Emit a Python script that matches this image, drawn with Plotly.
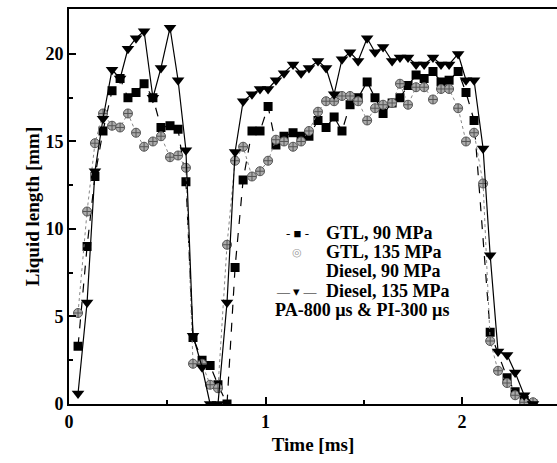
import plotly.graph_objects as go

# GTL, 90 MPa (squares)
t_gtl90 = [0.046, 0.092, 0.132, 0.173, 0.219, 0.260, 0.300, 0.341, 0.382, 0.427, 0.468, 0.514, 0.555, 0.595,
           0.631, 0.677, 0.718, 0.758, 0.804, 0.845, 0.886, 0.931, 0.972, 1.013, 1.053, 1.094, 1.140, 1.181,
           1.221, 1.267, 1.308, 1.349, 1.389, 1.430, 1.471, 1.517, 1.557, 1.598, 1.644, 1.684, 1.725, 1.766,
           1.807, 1.852, 1.893, 1.934, 1.980, 2.020, 2.061, 2.143, 2.229, 2.270, 2.316, 2.361]
v_gtl90 = [3.3, 9.0, 13.0, 15.6, 17.9, 18.6, 17.5, 17.8, 18.3, 17.5, 15.8, 15.9, 15.7, 12.7,
           3.8, 2.5, 2.2, 1.1, 0.0, 7.8, 12.8, 15.6, 15.6, 17.0, 14.8, 15.3, 15.5, 15.3,
           15.3, 16.2, 15.8, 16.4, 15.6, 17.1, 17.5, 18.4, 17.5, 16.6, 17.2, 17.5, 18.2, 18.8,
           18.6, 19.0, 18.4, 18.5, 19.0, 17.8, 16.2, 4.1, 1.5, 0.7, 0.2, 0.0]

# GTL, 135 MPa (circles)
t_gtl135 = [0.046, 0.092, 0.132, 0.173, 0.219, 0.260, 0.300, 0.341, 0.382, 0.427, 0.468, 0.514, 0.555, 0.595,
            0.631, 0.677, 0.718, 0.758, 0.804, 0.845, 0.886, 0.931, 0.972, 1.013, 1.053, 1.094, 1.140, 1.181,
            1.221, 1.267, 1.308, 1.349, 1.389, 1.430, 1.471, 1.517, 1.557, 1.598, 1.644, 1.684, 1.725, 1.766,
            1.807, 1.852, 1.893, 1.934, 1.980, 2.020, 2.061, 2.107, 2.143, 2.183, 2.229, 2.270, 2.316, 2.361]
v_gtl135 = [5.2, 11.0, 14.9, 16.6, 15.9, 15.8, 16.6, 15.5, 14.7, 15.0, 15.3, 14.1, 14.2, 13.5,
            2.3, 2.3, 1.1, 0.9, 9.1, 13.9, 14.7, 13.0, 13.3, 13.9, 15.1, 15.0, 14.7, 15.0,
            15.6, 16.7, 17.3, 17.3, 17.6, 17.6, 17.3, 16.2, 16.9, 17.1, 17.2, 18.3, 17.1, 18.1,
            18.1, 17.4, 18.0, 18.0, 16.9, 15.0, 15.5, 12.6, 3.6, 1.9, 1.2, 0.5, 0.1, 0.1]

# Diesel, 90 MPa (no visible marks in the reference)
t_d90 = []
v_d90 = []

# Diesel, 135 MPa (triangles)
t_d135 = [0.046, 0.092, 0.132, 0.173, 0.219, 0.260, 0.300, 0.341, 0.382, 0.427, 0.468, 0.514, 0.555, 0.595,
          0.631, 0.677, 0.718, 0.758, 0.804, 0.845, 0.886, 0.931, 0.972, 1.013, 1.053, 1.094, 1.140, 1.181,
          1.221, 1.267, 1.308, 1.349, 1.389, 1.430, 1.471, 1.517, 1.557, 1.598, 1.644, 1.684, 1.725, 1.766,
          1.807, 1.852, 1.893, 1.934, 1.980, 2.020, 2.061, 2.107, 2.143, 2.183, 2.229, 2.270, 2.316, 2.361]
v_d135 = [0.6, 5.8, 13.3, 16.3, 19.1, 18.6, 20.3, 20.9, 21.3, 17.5, 19.2, 21.5, 18.5, 14.5,
          3.9, 2.1, 0.0, 0.0, 5.8, 14.4, 17.3, 17.7, 18.0, 18.0, 18.5, 18.9, 19.4, 18.9,
          19.2, 19.6, 19.2, 17.7, 19.7, 20.1, 19.6, 20.9, 20.1, 20.4, 19.6, 19.8, 19.8, 19.4,
          19.4, 19.8, 19.4, 19.4, 20.0, 18.5, 18.5, 14.6, 8.5, 3.0, 2.8, 1.8, 0.5, 0.0]

x_ticks = [0, 1, 2]
y_ticks = [0, 5, 10, 15, 20]
legend_names = ["GTL, 90 MPa", "GTL, 135 MPa", "Diesel, 90 MPa", "Diesel, 135 MPa"]
legend_keys = ["- <b>■</b> -", "<span style='color:#999999'>◎</span>", "", "— ▾ —"]
note_text = "PA-800 µs & PI-300 µs"

FONT = "Liberation Serif, Times New Roman, serif"

fig = go.Figure()
fig.add_trace(go.Scatter(
    x=t_gtl90, y=v_gtl90, mode="lines+markers", name=legend_names[0],
    line=dict(color="black", width=1.2, dash="dash"),
    marker=dict(symbol="square", size=9, color="black")))
fig.add_trace(go.Scatter(
    x=t_gtl135, y=v_gtl135, mode="lines+markers", name=legend_names[1],
    line=dict(color="#888888", width=1, dash="dot"),
    marker=dict(symbol="circle-cross", size=9, color="#aaaaaa",
                line=dict(color="#555555", width=1))))
fig.add_trace(go.Scatter(
    x=t_d90, y=v_d90, mode="markers", name=legend_names[2],
    marker=dict(symbol="circle", size=8, color="rgba(0,0,0,0)")))
fig.add_trace(go.Scatter(
    x=t_d135, y=v_d135, mode="lines+markers", name=legend_names[3],
    line=dict(color="black", width=1.2),
    marker=dict(symbol="triangle-down", size=11, color="black")))

# hand-laid legend (matches the compact spacing of the original)
plot_l, plot_w, plot_b, plot_h = 69, 488, 404, 395
def px_x(px):
    return (px - plot_l) / plot_w
def px_y(py):
    return (plot_b - py) / plot_h

row_y = [233, 252, 271, 291]
key_sizes = [13, 11, 13, 13]
for name, key, ry, ks in zip(legend_names, legend_keys, row_y, key_sizes):
    if key:
        fig.add_annotation(text=key, xref="paper", yref="paper", x=px_x(297), y=px_y(ry),
                           xanchor="center", yanchor="middle", showarrow=False,
                           font=dict(family=FONT, size=ks, color="black"))
    fig.add_annotation(text="<b>" + name + "</b>", xref="paper", yref="paper", x=px_x(324), y=px_y(ry),
                       xanchor="left", yanchor="middle", showarrow=False,
                       font=dict(family=FONT, size=18, color="black"))
fig.add_annotation(text="<b>" + note_text + "</b>", xref="paper", yref="paper",
                   x=px_x(273), y=px_y(310), xanchor="left", yanchor="middle", showarrow=False,
                   font=dict(family=FONT, size=18, color="black"))

axis_common = dict(showgrid=False, zeroline=False, showline=True, linecolor="black", linewidth=2,
                   ticks="inside", tickcolor="black", ticklen=7, tickwidth=1.5,
                   tickfont=dict(family=FONT, size=18, color="black", weight="bold"))

fig.update_xaxes(range=[0, 2.483], tickvals=x_ticks, ticktext=[str(v) for v in x_ticks],
                 mirror=True,
                 minor=dict(ticks="inside", tickvals=[0.5, 1.5], ticklen=4, tickcolor="black", tickwidth=1.5),
                 title=dict(text="<b>Time [ms]</b>", font=dict(family=FONT, size=19, color="black"), standoff=7),
                 **axis_common)
fig.update_yaxes(range=[0, 22.57], tickvals=y_ticks, ticktext=[str(v) for v in y_ticks],
                 minor=dict(ticks="inside", tickvals=[2.5, 7.5, 12.5, 17.5], ticklen=4, tickcolor="black", tickwidth=1.5),
                 title=dict(text="<b>Liquid length [mm]</b>", font=dict(family=FONT, size=19, color="black"), standoff=1),
                 **axis_common)

fig.update_layout(
    width=557, height=463,
    margin=dict(l=69, r=0, t=9, b=59),
    plot_bgcolor="white", paper_bgcolor="white",
    showlegend=False,
)

fig.write_html("out.html")
